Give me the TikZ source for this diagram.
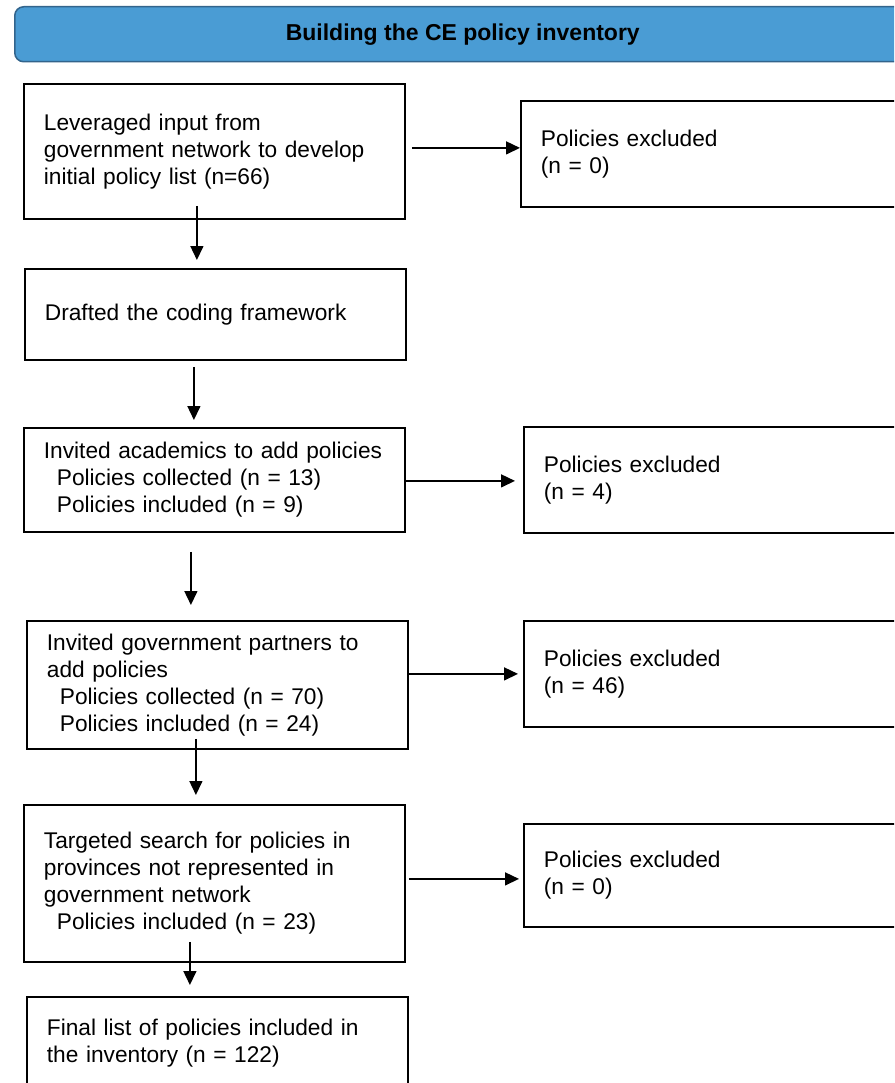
\documentclass[tikz,border=0pt]{standalone}
\usepackage{fontspec}
\setmainfont{Liberation Sans}
\usepackage{xcolor}
\usepackage{tikz}
\usetikzlibrary{arrows.meta}

\definecolor{headblue}{RGB}{74,156,212}
\definecolor{headedge}{RGB}{50,100,140}

\tikzset{
  box/.style={draw, line width=1.8pt, anchor=north west, align=left,
    inner xsep=20pt, font=\fontsize{22.7}{27}\selectfont},
  arr/.style={-{Triangle[length=14pt,width=13pt]}, line width=1.5pt}
}
\newcommand{\sub}{\hspace*{13pt}}

\begin{document}
\begin{tikzpicture}[x=1pt, y=-1pt]
    \useasboundingbox (0,0) rectangle (894,1083);
    \clip (0,0) rectangle (894,1083);
    % header bar
    \node[draw=headedge, fill=headblue, line width=1.5pt, rounded corners=9pt,
      anchor=north west, minimum width=896pt, minimum height=55pt,
      font=\fontsize{23}{25}\selectfont\bfseries] (title) at (14,6)
      {\raisebox{-2pt}{Building the CE policy inventory}};
    % main column
    \node[box, minimum width=381pt, minimum height=135pt, text width=341pt] (lever) at (23,83)
      {Leveraged input from\\government network to develop\\initial policy list (n=66)};
    \node[box, minimum width=381pt, minimum height=91pt, text width=341pt] (drafted) at (24,268)
      {Drafted the coding framework};
    \node[box, minimum width=381pt, minimum height=104pt, text width=341pt] (acad) at (23,427)
      {Invited academics to add policies\\\sub Policies collected (n = 13)\\\sub Policies included (n = 9)};
    \node[box, minimum width=381pt, minimum height=128pt, text width=341pt] (gov) at (26,620)
      {Invited government partners to\\add policies\\\sub Policies collected (n = 70)\\\sub Policies included (n = 24)};
    \node[box, minimum width=381pt, minimum height=157pt, text width=341pt] (search) at (23,804)
      {Targeted search for policies in\\provinces not represented in\\government network\\\sub Policies included (n = 23)};
    \node[box, minimum width=381pt, minimum height=92pt, text width=341pt] (final) at (26,996)
      {Final list of policies included in\\the inventory (n = 122)};
    % excluded boxes
    \node[box, minimum width=400pt, minimum height=106pt, text width=360pt] (ex1) at (520,100)
      {Policies excluded\\(n = 0)};
    \node[box, minimum width=400pt, minimum height=106pt, text width=360pt] (ex2) at (523,426)
      {Policies excluded\\(n = 4)};
    \node[box, minimum width=400pt, minimum height=106pt, text width=360pt] (ex3) at (523,620)
      {Policies excluded\\(n = 46)};
    \node[box, minimum width=400pt, minimum height=103pt, text width=360pt] (ex4) at (523,823)
      {Policies excluded\\(n = 0)};
    % arrows down
    \draw[arr] ([xshift=-17.5pt,yshift=14pt]lever.south) -- ([xshift=-18.5pt,yshift=8pt]drafted.north);
    \draw[arr] ([xshift=-21.5pt,yshift=-6pt]drafted.south) -- ([xshift=-20.5pt,yshift=7pt]acad.north);
    \draw[arr] ([xshift=-23.5pt,yshift=-19pt]acad.south) -- ([xshift=-26.5pt,yshift=15pt]gov.north);
    \draw[arr] ([xshift=-21.5pt,yshift=11pt]gov.south) -- ([xshift=-18.5pt,yshift=9pt]search.north);
    \draw[arr] ([xshift=-24.5pt,yshift=21pt]search.south) -- ([xshift=-27.5pt,yshift=11pt]final.north);
    % arrows right
    \draw[arr] ([xshift=6pt,yshift=3.5pt]lever.east) -- ([yshift=6pt]ex1.west);
    \draw[arr] ([yshift=-1pt]acad.east) -- ([xshift=-8pt,yshift=-1pt]ex2.west);
    \draw[arr] ([yshift=11pt]gov.east) -- ([xshift=-5pt]ex3.west);
    \draw[arr] ([xshift=3pt,yshift=4.5pt]search.east) -- ([xshift=-4pt,yshift=-3.5pt]ex4.west);
\end{tikzpicture}
\end{document}
